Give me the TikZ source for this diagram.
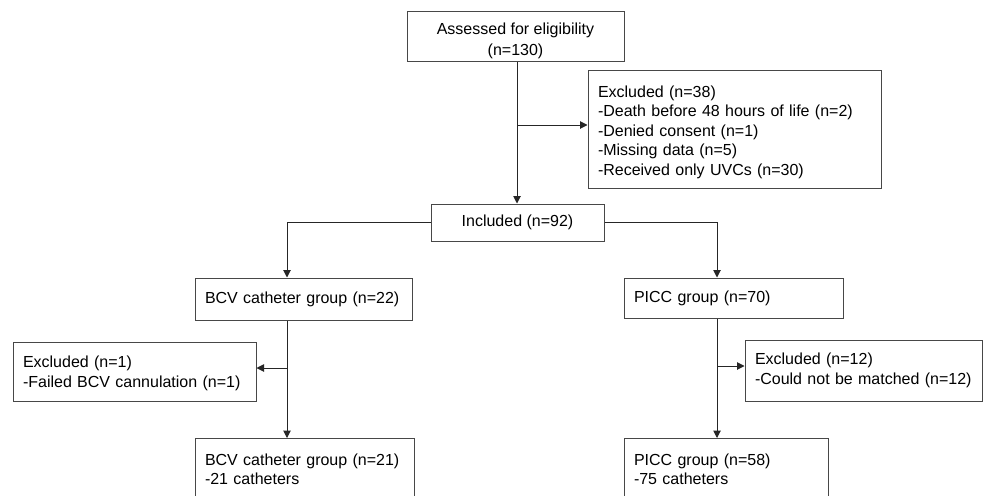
\documentclass[tikz,border=0pt]{standalone}
\usepackage{fontspec}
\setmainfont{Liberation Sans}
\usetikzlibrary{arrows.meta}
\begin{document}
\begin{tikzpicture}[x=1pt,y=-1pt,
  box/.style={draw=black!72, line width=1pt, inner xsep=10pt, inner ysep=0pt,
    font=\fontsize{16}{19.5}\selectfont, text=black},
  cbox/.style={box, align=center},
  lbox/.style={box, align=left},
  arr/.style={draw=black!85, line width=1pt, -{Triangle[length=7.5pt,width=7.5pt]}}]
\useasboundingbox (0,0) rectangle (992,495);
\clip (0,0) rectangle (992,495);
\fill[white] (0,0) rectangle (992,495);

\node[cbox, minimum width=217pt, minimum height=49pt] (ass) at (515.5,36.5)
  {\rule{0pt}{21pt}Assessed for eligibility\\[1.5pt](n=130)};
\node[lbox, minimum width=293pt, text width=273pt, minimum height=118pt] (ex38) at (734.5,129)
  {\rule{0pt}{18pt}Excluded (n=38)\\-Death before 48 hours of life (n=2)\\-Denied consent (n=1)\\-Missing data (n=5)\\-Received only UVCs (n=30)};
\node[cbox, minimum width=173pt, minimum height=37pt] (incl) at (517.5,222.5) {Included (n=92)};
\node[lbox, minimum width=217pt, text width=197pt, minimum height=42pt] (bcv22) at (303.5,299)
  {\mbox{BCV catheter group (n=22)}};
\node[lbox, minimum width=219pt, text width=199pt, minimum height=40pt] (picc70) at (733.5,298)
  {\mbox{PICC group (n=70)}};
\node[lbox, minimum width=243pt, text width=223pt, minimum height=59pt] (ex1) at (134.5,371.5)
  {\rule{0pt}{15pt}Excluded (n=1)\\\mbox{-Failed BCV cannulation (n=1)}};
\node[lbox, minimum width=237pt, text width=217pt, minimum height=61pt] (ex12) at (863.5,370.5)
  {Excluded (n=12)\\\mbox{-Could not be matched (n=12)}};
\node[lbox, minimum width=219pt, text width=199pt, minimum height=62pt, anchor=north] (bcv21) at (304.5,438)
  {\mbox{BCV catheter group (n=21)}\\-21 catheters};
\node[lbox, minimum width=204pt, text width=184pt, minimum height=62pt, anchor=north] (picc58) at (726,438)
  {PICC group (n=58)\\-75 catheters};

\coordinate (xm) at (517,0);
\coordinate (xl) at (287,0);
\coordinate (xr) at (717,0);
\coordinate (b1) at (517,125);
\coordinate (b2) at (287,368);
\coordinate (b3) at (717,366);

\draw[arr] (xm |- ass.south) -- (xm |- incl.north);
\draw[arr] (b1) -- (b1 -| ex38.west);
\draw[arr] (incl.west) -| (xl |- bcv22.north);
\draw[arr] (incl.east) -| (xr |- picc70.north);
\draw[arr] (xl |- bcv22.south) -- (xl |- bcv21.north);
\draw[arr] (b2) -- (b2 -| ex1.east);
\draw[arr] (xr |- picc70.south) -- (xr |- picc58.north);
\draw[arr] (b3) -- (b3 -| ex12.west);
\end{tikzpicture}
\end{document}
